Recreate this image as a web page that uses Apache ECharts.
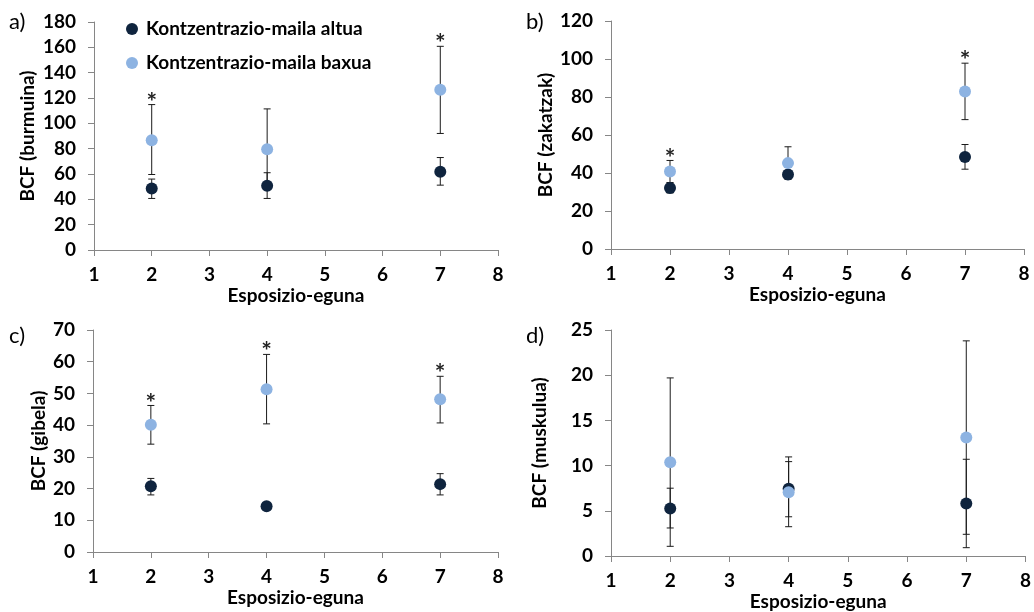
<!DOCTYPE html>
<html>
<head>
<meta charset="utf-8">
<script src="https://cdn.jsdelivr.net/npm/echarts@6/dist/echarts.min.js"></script>
<style>html,body{margin:0;padding:0;background:#fff}#c{width:1034px;height:612px}</style>
</head>
<body>
<div id="c"></div>
<script>
// ---- data ----
const days = [2, 4, 7];
const seriesNames = ['Kontzentrazio-maila altua', 'Kontzentrazio-maila baxua'];
const xTitle = 'Esposizio-eguna';
const panelLabels = ['a)', 'b)', 'c)', 'd)'];
const yTitles = ['BCF (burmuina)', 'BCF (zakatzak)', 'BCF (gibela)', 'BCF (muskulua)'];
const yMax = [180, 120, 70, 25];
const yStep = [20, 20, 10, 5];

// panel a (burmuina)
const aAltua = [48.6, 50.7, 61.7];
const aAltuaLow = [40.7, 40.7, 51.2];
const aAltuaHigh = [56, 61, 73];
const aBaxua = [86.7, 79.6, 126.6];
const aBaxuaLow = [59.6, 47.8, 92];
const aBaxuaHigh = [114.8, 111.4, 160.8];
const aStars = [true, false, true];
// panel b (zakatzak)
const bAltua = [32.1, 39.2, 48.4];
const bAltuaLow = [29.5, 37.9, 42];
const bAltuaHigh = [34.7, 40.5, 55];
const bBaxua = [40.8, 45.2, 82.9];
const bBaxuaLow = [35, 36.6, 68.1];
const bBaxuaHigh = [46.6, 53.8, 97.8];
const bStars = [true, false, true];
// panel c (gibela)
const cAltua = [20.7, 14.4, 21.4];
const cAltuaLow = [18, 13.9, 18];
const cAltuaHigh = [23.2, 14.9, 24.7];
const cBaxua = [40.1, 51.3, 48.2];
const cBaxuaLow = [34, 40.4, 40.7];
const cBaxuaHigh = [46.2, 62.3, 55.4];
const cStars = [true, true, true];
// panel d (muskulua)
const dAltua = [5.26, 7.43, 5.8];
const dAltuaLow = [3.1, 3.24, 2.4];
const dAltuaHigh = [7.5, 10.96, 10.7];
const dBaxua = [10.37, 7.06, 13.1];
const dBaxuaLow = [1.07, 4.34, 0.92];
const dBaxuaHigh = [19.7, 10.44, 23.8];
const dStars = [false, false, false];

const panels = [
  [aAltua, aAltuaLow, aAltuaHigh, aBaxua, aBaxuaLow, aBaxuaHigh, aStars],
  [bAltua, bAltuaLow, bAltuaHigh, bBaxua, bBaxuaLow, bBaxuaHigh, bStars],
  [cAltua, cAltuaLow, cAltuaHigh, cBaxua, cBaxuaLow, cBaxuaHigh, cStars],
  [dAltua, dAltuaLow, dAltuaHigh, dBaxua, dBaxuaLow, dBaxuaHigh, dStars]
];

// ---- layout / style ----
const FONT = 'Lato';
const FS = 19;
const DARK = '#0F243E';
const LIGHT = '#8DB3E2';
const AXIS = '#868686';
const grids = [
  { left: 94, right: 536, top: 22, bottom: 362 },
  { left: 611, right: 10, top: 21, bottom: 363 },
  { left: 93, right: 536, top: 330, bottom: 60 },
  { left: 611, right: 8, top: 330, bottom: 55 }
];
const yNameGap = [57, 56, 45, 62];
const labelPos = [[9, 24], [526, 24], [9, 338], [526, 338]];

const xAxes = [], yAxes = [], series = [];
panels.forEach((p, i) => {
  xAxes.push({
    gridIndex: i, type: 'value', min: 1, max: 8, interval: 1,
    name: xTitle, nameLocation: 'middle', nameGap: 36,
    nameTextStyle: { fontFamily: FONT, fontWeight: 'bold', fontSize: FS, color: '#000' },
    axisLine: { show: true, onZero: false, lineStyle: { color: AXIS, width: 1 } },
    axisTick: { show: true, length: 6, lineStyle: { color: AXIS } },
    axisLabel: { margin: 15, fontFamily: FONT, fontWeight: 'bold', fontSize: FS, color: '#000' },
    splitLine: { show: false }
  });
  yAxes.push({
    gridIndex: i, type: 'value', min: 0, max: yMax[i], interval: yStep[i],
    name: yTitles[i], nameLocation: 'middle', nameGap: yNameGap[i], nameRotate: 90,
    nameTextStyle: { fontFamily: FONT, fontWeight: 'bold', fontSize: FS, color: '#000' },
    axisLine: { show: true, lineStyle: { color: AXIS, width: 1 } },
    axisTick: { show: true, length: 6, lineStyle: { color: AXIS } },
    axisLabel: { margin: 18, fontFamily: FONT, fontWeight: 'bold', fontSize: FS, color: '#000' },
    splitLine: { show: false }
  });
  const errData = [];
  [[p[0], p[1], p[2], null], [p[3], p[4], p[5], p[6]]].forEach(s => {
    days.forEach((d, k) => {
      errData.push([d, s[1][k], s[2][k], s[3] && s[3][k] ? 1 : 0]);
    });
  });
  series.push({
    type: 'custom', xAxisIndex: i, yAxisIndex: i, z: 1, silent: true,
    encode: { x: 0, y: [1, 2] },
    data: errData,
    renderItem: (params, api) => {
      const x = api.value(0);
      const lo = api.coord([x, api.value(1)]);
      const hi = api.coord([x, api.value(2)]);
      const cw = 3.5;
      const st = { stroke: '#1a1a1a', lineWidth: 1 };
      const children = [
        { type: 'line', shape: { x1: lo[0], y1: lo[1], x2: hi[0], y2: hi[1] }, style: st },
        { type: 'line', shape: { x1: lo[0] - cw, y1: lo[1], x2: lo[0] + cw, y2: lo[1] }, style: st },
        { type: 'line', shape: { x1: hi[0] - cw, y1: hi[1], x2: hi[0] + cw, y2: hi[1] }, style: st }
      ];
      if (api.value(3)) {
        children.push({ type: 'text', style: { text: '*', x: hi[0], y: hi[1] - 2, textAlign: 'center', textVerticalAlign: 'middle', fontFamily: FONT, fontWeight: 'bold', fontSize: 25, fill: '#222' } });
      }
      return { type: 'group', children };
    }
  });
  series.push({
    type: 'scatter', name: seriesNames[0], xAxisIndex: i, yAxisIndex: i, z: 2,
    symbol: 'circle', symbolSize: 12, itemStyle: { color: DARK, opacity: 1 },
    data: days.map((d, k) => [d, p[0][k]])
  });
  series.push({
    type: 'scatter', name: seriesNames[1], xAxisIndex: i, yAxisIndex: i, z: 3,
    symbol: 'circle', symbolSize: 12, itemStyle: { color: LIGHT, opacity: 1 },
    data: days.map((d, k) => [d, p[3][k]])
  });
});

const chart = echarts.init(document.getElementById('c'), null, { renderer: 'canvas' });
chart.setOption({
  animation: false,
  backgroundColor: '#fff',
  grid: grids,
  xAxis: xAxes,
  yAxis: yAxes,
  legend: {
    data: seriesNames, orient: 'vertical', left: 121, top: 13,
    icon: 'circle', itemWidth: 12, itemHeight: 12, itemGap: 12,
    selectedMode: false,
    textStyle: { fontFamily: FONT, fontWeight: 'bold', fontSize: FS, color: '#000', lineHeight: 22, padding: [0, 0, 0, 3] }
  },
  graphic: panelLabels.map((t, i) => ({
    type: 'text', left: labelPos[i][0], top: labelPos[i][1] - 13,
    style: { text: t, fontFamily: FONT, fontSize: 22, fill: '#000' }
  })),
  series
});
</script>
</body>
</html>
